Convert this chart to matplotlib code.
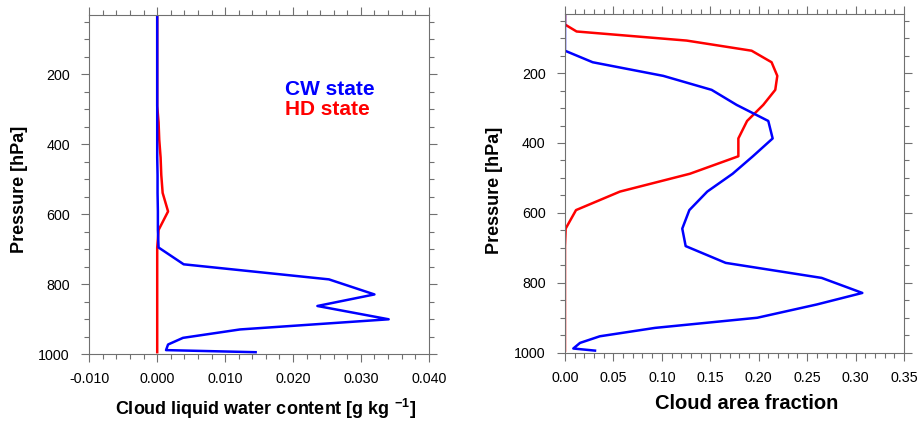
import numpy as np
import matplotlib
matplotlib.use('Agg')
import matplotlib.pyplot as plt
from matplotlib.ticker import MultipleLocator

plt.rcParams['font.family'] = ['Liberation Sans', 'DejaVu Sans']
plt.rcParams['mathtext.fontset'] = 'custom'
plt.rcParams['mathtext.rm'] = 'Liberation Sans'
plt.rcParams['mathtext.bf'] = 'Liberation Sans:bold'

# model pressure levels (hPa)
levels = [32, 61, 81, 107, 136, 169, 208, 248, 291, 337, 387, 438, 488, 539,
          592, 645, 695, 743, 786, 829, 862, 900, 929, 953, 972, 988, 994]

# cloud liquid water content (g/kg)
clw_cw = [0, 0, 0, 0, 0, 0, 0, 0, 0, 0, 0, 0, 0.00005, 0.00005,
          0.0001, 0.0001, 0.0002, 0.0039, 0.0253, 0.0320, 0.0236, 0.0341, 0.0122, 0.0038,
          0.0016, 0.0013, 0.0145]
clw_hd = [0, 0, 0, 0, 0, 0, 0, 0, 0, 0.0002, 0.0003, 0.0005, 0.0006, 0.0008,
          0.0016, 0.0002, 0, 0, 0, 0, 0, 0, 0, 0, 0, 0, 0]

# cloud area fraction
cf_cw = [0, 0, 0, 0, 0, 0.0286, 0.1015, 0.1514, 0.1772, 0.2099, 0.2144, 0.194, 0.1731, 0.1469,
         0.1284, 0.1211, 0.1246, 0.1659, 0.265, 0.307, 0.26, 0.1985, 0.093, 0.036,
         0.0155, 0.0086, 0.031]
cf_hd = [0, 0, 0.012, 0.1256, 0.1927, 0.2133, 0.2192, 0.2171, 0.2047, 0.188, 0.179, 0.179, 0.129, 0.0568,
         0.0114, 0.0007, 0, 0, 0, 0, 0, 0, 0, 0, 0, 0, 0]

p_ticks = [200, 400, 600, 800, 1000]
clw_ticks = [-0.01, 0.0, 0.01, 0.02, 0.03, 0.04]
clw_labels = ['-0.010', '0.000', '0.010', '0.020', '0.030', '0.040']
cf_ticks = [0.0, 0.05, 0.10, 0.15, 0.20, 0.25, 0.30, 0.35]
cf_labels = ['0.00', '0.05', '0.10', '0.15', '0.20', '0.25', '0.30', '0.35']

tick_col = '#707070'


def style_axes(ax):
    '''NCL-like frame: ticks on all sides, pointing outward'''
    for s in ax.spines.values():
        s.set_color(tick_col)
        s.set_linewidth(0.8)
    ax.tick_params(which='both', direction='out', top=True, right=True,
                   color=tick_col, width=0.8, labelsize=10.3)
    ax.tick_params(which='major', length=6)
    ax.tick_params(which='minor', length=3.5)
    ax.tick_params(axis='x', pad=7)
    ax.tick_params(axis='y', pad=8)
    ax.set_ylim(1000, 31)
    ax.set_yticks(p_ticks)
    ax.yaxis.set_minor_locator(MultipleLocator(50))


fig = plt.figure(figsize=(9.2, 4.22), dpi=100)

ax1 = fig.add_axes([0.0971, 0.1604, 0.3689, 0.8041])
ax1.plot(clw_hd, levels, color='red', lw=1.8)
ax1.plot(clw_cw, levels, color='blue', lw=1.8)
style_axes(ax1)
ax1.set_xlim(-0.01, 0.04)
ax1.set_xticks(clw_ticks)
ax1.set_xticklabels(clw_labels)
ax1.xaxis.set_minor_locator(MultipleLocator(0.002))
ax1.set_xlabel(r'Cloud liquid water content [g kg $^{\mathbf{-1}}$]', fontsize=13, fontweight='bold')
ax1.xaxis.set_label_coords(0.52, -0.161)
ax1.xaxis.label.set_va('center')
ax1.set_ylabel('Pressure [hPa]', fontsize=13, fontweight='bold')
ax1.yaxis.set_label_coords(-0.207, 0.487)
ax1.yaxis.label.set_va('center')
ax1.text(0.5766, 0.764, 'CW state', color='blue', fontsize=15, fontweight='bold',
         transform=ax1.transAxes, va='baseline')
ax1.text(0.5766, 0.706, 'HD state', color='red', fontsize=15, fontweight='bold',
         transform=ax1.transAxes, va='baseline')

ax2 = fig.add_axes([0.6141, 0.1642, 0.3685, 0.8026])
ax2.plot(cf_hd, levels, color='red', lw=1.8)
ax2.plot(cf_cw, levels, color='blue', lw=1.8)
style_axes(ax2)
ax2.set_xlim(0, 0.35)
ax2.set_xticks(cf_ticks)
ax2.set_xticklabels(cf_labels)
ax2.xaxis.set_minor_locator(MultipleLocator(0.01))
ax2.set_xlabel('Cloud area fraction', fontsize=14.5, fontweight='bold')
ax2.xaxis.set_label_coords(0.537, -0.1485)
ax2.xaxis.label.set_va('center')
ax2.set_ylabel('Pressure [hPa]', fontsize=13, fontweight='bold')
ax2.yaxis.set_label_coords(-0.2065, 0.48)
ax2.yaxis.label.set_va('center')

fig.savefig('out.png', dpi=100)
